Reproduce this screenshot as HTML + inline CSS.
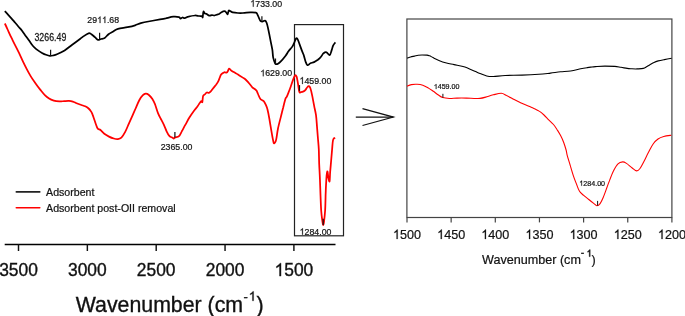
<!DOCTYPE html>
<html><head><meta charset="utf-8"><style>
html,body{margin:0;padding:0;background:#fff;width:685px;height:316px;overflow:hidden}
svg{display:block;font-family:"Liberation Sans", sans-serif;will-change:transform}
text.b{stroke:#111;stroke-width:0.35px}
text.s{stroke:#151515;stroke-width:0.22px}
</style></head><body>
<svg width="685" height="316" viewBox="0 0 685 316">
<line x1="4.7" y1="244.4" x2="335.5" y2="244.4" stroke="#000" stroke-width="1.45"/>
<line x1="18.50" y1="244.4" x2="18.50" y2="251" stroke="#111" stroke-width="1.45"/>
<text transform="translate(-0.85,276.10) scale(1,1.04)" x="0.00 9.68 19.35 29.03" y="0" font-size="17.4" fill="#111" class="b">3500</text>
<line x1="87.35" y1="244.4" x2="87.35" y2="251" stroke="#111" stroke-width="1.45"/>
<text transform="translate(68.00,276.10) scale(1,1.04)" x="0.00 9.68 19.35 29.03" y="0" font-size="17.4" fill="#111" class="b">3000</text>
<line x1="156.20" y1="244.4" x2="156.20" y2="251" stroke="#111" stroke-width="1.45"/>
<text transform="translate(136.85,276.10) scale(1,1.04)" x="0.00 9.68 19.35 29.03" y="0" font-size="17.4" fill="#111" class="b">2500</text>
<line x1="225.05" y1="244.4" x2="225.05" y2="251" stroke="#111" stroke-width="1.45"/>
<text transform="translate(205.70,276.10) scale(1,1.04)" x="0.00 9.68 19.35 29.03" y="0" font-size="17.4" fill="#111" class="b">2000</text>
<line x1="293.90" y1="244.4" x2="293.90" y2="251" stroke="#111" stroke-width="1.45"/>
<text transform="translate(274.55,276.10) scale(1,1.04)" x="9.68 19.35 29.03" y="0" font-size="17.4" fill="#111" class="b">500</text>
<path d="M281.03,276.10L279.50,276.10L279.50,265.97Q278.95,266.51 278.05,267.06Q277.15,267.61 276.44,267.88L276.44,266.35Q277.72,265.72 278.66,264.85Q279.60,263.98 280.01,263.15L281.03,263.15Z" fill="#111" stroke="#111" stroke-width="0.35"/>
<text class="b" x="75.8" y="311.6" font-size="21.3" fill="#111">Wavenumber (cm</text>
<text class="b" x="243.42" y="300.8" font-size="13.1" fill="#111">-</text>
<path d="M253.58,300.80L252.43,300.80L252.43,293.46Q252.01,293.86 251.34,294.26Q250.66,294.65 250.13,294.85L250.13,293.74Q251.09,293.28 251.80,292.65Q252.51,292.02 252.81,291.42L253.58,291.42Z" fill="#111" stroke="#111" stroke-width="0.35"/>
<text class="b" x="256.5" y="311.6" font-size="21.5" fill="#111">)</text>
<rect x="294.5" y="24.6" width="49" height="211.2" fill="none" stroke="#222" stroke-width="1.2"/>
<path d="M4.8,23.5 C5.3,24.5 6.5,27.1 7.6,29.5 C8.7,31.9 10.1,35.1 11.4,37.7 C12.7,40.3 13.9,42.8 15.2,45.3 C16.5,47.8 17.7,50.2 19.0,52.9 C20.3,55.6 21.6,58.6 22.9,61.3 C24.2,64.0 25.6,66.8 26.9,69.3 C28.2,71.8 29.4,74.0 30.8,76.4 C32.2,78.8 34.0,81.2 35.6,83.5 C37.2,85.8 38.8,87.9 40.4,89.9 C42.0,91.9 43.6,94.0 45.1,95.4 C46.6,96.9 47.7,97.7 49.1,98.6 C50.5,99.5 52.1,100.1 53.8,100.6 C55.5,101.1 57.8,101.3 59.5,101.4 C61.2,101.5 62.6,101.2 64.2,101.1 C65.8,101.0 67.6,100.8 69.0,100.9 C70.4,101.0 71.5,101.2 72.8,101.6 C74.1,102.0 75.2,102.7 76.6,103.3 C78.0,103.9 79.9,104.5 81.3,105.0 C82.7,105.5 84.0,105.8 85.1,106.3 C86.2,106.8 87.1,107.3 88.0,108.0 C88.9,108.7 89.6,109.5 90.3,110.4 C91.0,111.4 91.3,111.5 92.2,113.7 C93.1,115.9 94.8,121.2 95.7,123.7 C96.6,126.2 96.8,127.4 97.6,128.4 C98.4,129.5 99.4,129.1 100.5,130.0 C101.6,130.9 102.9,132.7 104.3,133.8 C105.7,134.9 107.4,135.8 109.0,136.6 C110.6,137.4 112.4,138.1 113.8,138.5 C115.2,138.9 116.3,139.2 117.6,139.1 C118.9,138.9 120.1,138.8 121.4,137.6 C122.7,136.4 123.9,134.3 125.2,131.9 C126.5,129.5 127.7,126.2 129.0,123.3 C130.3,120.4 131.7,117.3 132.8,114.8 C133.9,112.3 134.5,111.0 135.6,108.5 C136.7,106.0 138.2,102.2 139.4,100.0 C140.6,97.8 141.9,96.2 142.9,95.2 C143.9,94.2 144.8,93.8 145.7,93.7 C146.6,93.6 147.5,93.9 148.6,94.8 C149.7,95.7 151.3,97.3 152.4,99.0 C153.5,100.7 154.2,102.3 155.2,104.7 C156.1,107.1 157.1,110.9 158.1,113.3 C159.1,115.7 159.9,117.1 160.9,119.0 C161.9,120.9 162.9,122.7 163.8,124.7 C164.8,126.8 165.7,129.4 166.6,131.3 C167.5,133.2 168.6,135.1 169.5,136.1 C170.4,137.1 171.6,137.2 172.3,137.6 C173.0,138.0 173.2,138.5 173.7,138.5 C174.2,138.5 174.3,137.8 175.2,137.4 C176.1,137.0 177.9,137.1 179.0,136.1 C180.1,135.1 180.8,133.2 181.8,131.3 C182.9,129.4 184.0,127.2 185.3,124.9 C186.6,122.6 188.0,119.8 189.4,117.5 C190.8,115.2 192.1,113.3 193.5,111.4 C194.9,109.5 196.6,107.6 197.6,106.2 C198.6,104.8 199.1,103.9 199.7,103.1 C200.3,102.2 200.9,101.3 201.3,101.1 C201.7,100.9 202.0,102.9 202.3,102.1 C202.6,101.2 202.7,97.3 203.1,96.0 C203.5,94.7 204.2,95.1 204.8,94.5 C205.4,93.9 206.1,92.8 206.8,92.5 C207.5,92.2 208.2,93.1 208.9,92.9 C209.6,92.7 210.3,92.0 211.0,91.2 C211.7,90.5 212.2,89.5 213.0,88.4 C213.8,87.3 215.2,85.8 216.1,84.7 C216.9,83.6 217.5,82.8 218.1,81.6 C218.7,80.4 219.3,78.7 219.8,77.5 C220.3,76.3 220.4,75.3 221.2,74.4 C221.9,73.5 223.4,72.6 224.3,72.3 C225.2,72.0 225.8,72.9 226.4,72.7 C227.0,72.5 227.4,72.0 227.8,71.3 C228.2,70.6 228.4,68.7 229.0,68.6 C229.6,68.5 230.5,70.0 231.5,70.7 C232.5,71.4 233.9,72.1 235.0,72.7 C236.1,73.3 236.4,73.6 238.0,74.6 C239.6,75.6 242.9,77.5 244.7,78.8 C246.4,80.1 247.2,81.2 248.5,82.6 C249.8,84.0 251.0,86.0 252.3,87.3 C253.6,88.6 255.2,89.1 256.1,90.2 C257.1,91.3 257.3,92.5 258.0,94.0 C258.7,95.5 259.4,97.8 260.4,99.0 C261.3,100.2 262.8,100.3 263.7,101.2 C264.6,102.1 265.0,103.0 265.6,104.4 C266.2,105.8 266.9,107.1 267.5,109.5 C268.1,111.9 268.8,115.5 269.4,119.0 C270.0,122.5 270.7,126.8 271.3,130.4 C271.9,134.0 272.7,138.7 273.2,140.8 C273.7,143.0 273.7,143.5 274.2,143.3 C274.7,143.2 275.5,142.4 276.1,139.9 C276.7,137.4 277.2,132.3 278.0,128.5 C278.8,124.7 279.9,120.6 280.8,117.1 C281.7,113.6 282.4,110.5 283.2,107.5 C283.9,104.5 284.8,100.9 285.3,99.2 C285.8,97.5 286.0,98.0 286.3,97.4 C286.6,96.8 286.8,96.8 287.3,95.6 C287.8,94.4 288.8,91.8 289.4,90.3 C290.0,88.8 290.2,88.3 290.8,86.5 C291.4,84.7 292.5,81.3 293.2,79.4 C293.9,77.5 294.5,75.8 295.1,75.3 C295.7,74.8 296.1,75.3 296.6,76.6 C297.1,77.9 297.4,80.7 297.9,83.2 C298.3,85.7 298.8,90.3 299.3,91.8 C299.8,93.3 300.1,92.3 300.8,92.2 C301.5,92.1 302.8,91.8 303.6,91.4 C304.4,91.0 304.9,90.6 305.5,89.9 C306.1,89.2 306.8,87.6 307.4,87.0 C307.9,86.4 308.3,85.9 308.8,86.1 C309.3,86.3 309.7,86.4 310.3,88.0 C310.9,89.6 311.6,92.6 312.2,95.6 C312.8,98.5 313.5,102.4 314.1,105.7 C314.7,109.0 315.5,111.7 316.0,115.2 C316.5,118.7 316.7,122.8 317.0,126.6 C317.3,130.4 317.6,134.2 317.9,138.0 C318.2,141.8 318.6,145.0 318.8,149.4 C319.0,153.8 319.0,159.3 319.2,164.2 C319.4,169.0 319.7,173.4 319.9,178.5 C320.1,183.6 320.3,189.6 320.5,195.0 C320.7,200.4 320.9,206.3 321.2,210.8 C321.5,215.3 322.2,219.5 322.5,221.9 C322.8,224.3 322.9,225.1 323.2,225.1 C323.4,225.1 323.7,224.3 324.0,221.9 C324.3,219.5 324.8,215.3 325.1,210.8 C325.4,206.3 325.5,199.2 325.6,195.0 C325.8,190.8 325.8,188.8 326.0,185.6 C326.2,182.4 326.4,178.0 326.6,175.6 C326.9,173.2 327.2,170.9 327.5,171.4 C327.8,171.9 328.1,176.8 328.5,178.5 C328.9,180.2 329.3,182.5 329.6,181.3 C329.9,180.1 329.9,175.0 330.2,171.4 C330.5,167.8 330.9,163.7 331.2,160.0 C331.5,156.3 331.8,152.8 332.1,149.4 C332.4,146.1 332.6,141.9 333.1,139.9 C333.6,137.9 334.7,138.0 335.0,137.6" fill="none" stroke="#f00" stroke-width="1.75" stroke-linejoin="round"/>
<path d="M4.8,11.1 C5.3,11.6 6.5,12.9 7.6,14.1 C8.7,15.3 10.1,16.9 11.4,18.3 C12.7,19.7 13.9,21.2 15.2,22.7 C16.5,24.2 17.8,25.8 19.0,27.2 C20.2,28.6 21.1,29.6 22.2,31.0 C23.2,32.4 24.2,33.9 25.3,35.4 C26.4,36.9 27.4,38.3 28.5,39.8 C29.6,41.3 30.6,42.9 31.6,44.2 C32.6,45.5 33.5,46.6 34.6,47.6 C35.7,48.6 36.8,49.5 38.0,50.4 C39.2,51.3 40.7,52.2 42.0,52.9 C43.3,53.6 44.7,54.3 46.0,54.8 C47.3,55.3 48.6,55.8 49.8,55.9 C51.0,56.0 51.8,55.8 53.0,55.5 C54.2,55.2 55.1,55.1 57.0,54.2 C58.9,53.4 62.1,52.0 64.6,50.4 C67.1,48.8 69.6,46.6 72.2,44.7 C74.8,42.8 78.1,40.4 80.0,39.0 C81.9,37.6 82.4,37.1 83.8,36.1 C85.2,35.1 87.3,33.6 88.6,33.3 C89.9,33.0 90.3,33.5 91.4,34.2 C92.5,34.9 94.1,36.5 95.2,37.4 C96.3,38.3 97.0,39.6 98.0,39.9 C99.0,40.2 99.8,39.3 100.9,39.0 C102.0,38.7 103.4,38.8 104.7,38.0 C106.0,37.2 107.1,35.3 108.5,34.2 C109.9,33.1 111.7,32.3 113.3,31.4 C114.9,30.5 115.6,29.6 118.0,28.9 C120.4,28.2 124.7,27.8 127.5,27.2 C130.3,26.6 132.9,26.0 135.1,25.3 C137.3,24.6 138.6,23.8 140.8,23.2 C143.0,22.6 145.2,22.1 148.4,21.5 C151.6,20.9 157.1,19.9 160.0,19.4 C162.9,18.9 163.5,18.8 165.7,18.4 C167.9,17.9 171.1,16.9 173.3,16.7 C175.5,16.5 177.8,16.8 179.0,17.1 C180.2,17.4 179.9,18.5 180.5,18.6 C181.1,18.7 181.7,17.6 182.4,17.5 C183.1,17.4 183.7,18.3 184.7,18.2 C185.7,18.1 186.8,17.1 188.5,16.7 C190.2,16.2 193.2,15.6 195.0,15.5 C196.8,15.4 197.9,15.9 199.1,16.0 C200.3,16.1 201.4,16.0 202.0,16.2 C202.6,16.4 202.5,18.1 202.7,17.3 C202.9,16.5 203.1,12.2 203.4,11.6 C203.7,10.9 204.2,13.1 204.7,13.4 C205.2,13.8 205.4,13.3 206.2,13.7 C207.0,14.1 208.4,15.5 209.3,15.7 C210.2,15.9 211.1,15.0 211.9,15.0 C212.8,15.0 213.6,15.6 214.4,15.5 C215.2,15.4 216.2,14.9 217.0,14.7 C217.8,14.4 218.3,14.4 219.0,14.0 C219.7,13.6 220.2,12.9 221.1,12.4 C222.0,11.9 223.8,11.1 224.6,11.1 C225.4,11.1 225.7,11.9 226.2,12.4 C226.7,12.9 227.3,14.5 227.7,14.2 C228.1,13.9 228.3,11.1 228.7,10.6 C229.1,10.1 229.6,10.8 230.3,11.1 C231.0,11.4 231.5,12.1 232.8,12.4 C234.1,12.7 236.2,12.9 237.9,13.0 C239.6,13.1 240.9,13.1 243.0,13.0 C245.1,12.9 248.1,12.5 250.2,12.4 C252.3,12.3 254.6,12.4 255.8,12.7 C257.0,13.0 256.8,13.3 257.3,14.2 C257.8,15.0 258.4,16.7 258.9,17.8 C259.4,18.9 259.8,20.2 260.4,20.8 C261.0,21.4 261.6,21.6 262.4,21.6 C263.2,21.6 264.3,20.4 265.0,20.6 C265.7,20.8 266.0,21.2 266.6,22.8 C267.2,24.4 267.9,27.5 268.5,30.4 C269.1,33.2 269.8,36.7 270.4,39.9 C271.0,43.1 271.8,46.4 272.3,49.4 C272.8,52.4 272.7,55.3 273.2,57.6 C273.7,59.9 274.6,62.2 275.1,63.3 C275.6,64.4 275.6,64.1 276.1,64.2 C276.6,64.3 277.2,64.2 278.0,63.7 C278.8,63.2 279.5,62.7 280.8,61.4 C282.1,60.1 284.3,57.4 285.6,55.7 C286.9,54.0 287.4,52.8 288.5,51.3 C289.6,49.8 291.4,48.0 292.3,46.6 C293.2,45.2 293.6,44.2 294.2,42.8 C294.8,41.4 295.6,39.0 296.1,38.4 C296.7,37.8 297.0,38.3 297.5,39.0 C298.0,39.7 298.3,40.9 299.0,42.8 C299.7,44.7 301.0,48.3 301.8,50.4 C302.6,52.5 303.1,53.2 303.7,55.1 C304.3,57.0 305.0,60.0 305.6,61.7 C306.2,63.4 306.7,64.9 307.5,65.2 C308.3,65.5 309.3,63.8 310.4,63.3 C311.5,62.8 312.9,62.7 314.1,62.1 C315.4,61.5 316.8,60.6 317.9,59.8 C319.0,58.9 319.9,58.1 320.8,57.0 C321.8,55.9 322.7,54.0 323.6,53.2 C324.6,52.4 325.5,52.0 326.5,52.3 C327.5,52.6 328.8,55.4 329.7,55.1 C330.6,54.8 331.0,52.0 331.6,50.4 C332.2,48.8 332.5,46.9 333.1,45.6 C333.7,44.3 335.0,42.9 335.4,42.4" fill="none" stroke="#000" stroke-width="1.75" stroke-linejoin="round"/>
<line x1="50.6" y1="49.8" x2="50.6" y2="56.0" stroke="#111" stroke-width="1.2"/>
<line x1="99.6" y1="32.7" x2="99.6" y2="39.5" stroke="#111" stroke-width="1.2"/>
<line x1="261.9" y1="16.2" x2="261.9" y2="21.3" stroke="#111" stroke-width="1.2"/>
<line x1="275.5" y1="58.5" x2="275.5" y2="64.2" stroke="#111" stroke-width="1.2"/>
<line x1="299.5" y1="85.1" x2="299.5" y2="90.8" stroke="#111" stroke-width="1.2"/>
<line x1="174.9" y1="131.9" x2="174.9" y2="137.4" stroke="#111" stroke-width="1.2"/>
<line x1="323.2" y1="218.7" x2="323.2" y2="225.1" stroke="#111" stroke-width="1.2"/>
<text transform="translate(34.47,40.95) scale(1,1.14)" x="0.00 4.89 9.79 14.68 19.58 22.02 26.92" y="0" font-size="8.8" fill="#151515" class="s">3266.49</text>
<text transform="translate(87.36,23.05) scale(1,1.03)" x="0.00 4.89 19.58 22.02 26.92" y="0" font-size="8.8" fill="#151515" class="s">29.68</text>
<path d="M100.43,23.05L99.65,23.05L99.65,17.97Q99.37,18.25 98.92,18.52Q98.47,18.80 98.11,18.93L98.11,18.16Q98.76,17.85 99.23,17.41Q99.70,16.98 99.91,16.56L100.43,16.56ZM105.32,23.05L104.55,23.05L104.55,17.97Q104.27,18.25 103.81,18.52Q103.36,18.80 103.00,18.93L103.00,18.16Q103.65,17.85 104.12,17.41Q104.60,16.98 104.81,16.56L105.32,16.56Z" fill="#151515" stroke="#151515" stroke-width="0.22"/>
<text transform="translate(250.34,6.65) scale(1,1.08)" x="4.89 9.79 14.68 19.58 22.02 26.92" y="0" font-size="8.8" fill="#151515" class="s">733.00</text>
<path d="M253.62,6.65L252.85,6.65L252.85,1.33Q252.57,1.61 252.11,1.90Q251.66,2.19 251.30,2.33L251.30,1.53Q251.95,1.20 252.42,0.74Q252.90,0.28 253.10,-0.15L253.62,-0.15Z" fill="#151515" stroke="#151515" stroke-width="0.22"/>
<text transform="translate(260.34,76.25) scale(1,1.05)" x="4.89 9.79 14.68 19.58 22.02 26.92" y="0" font-size="8.8" fill="#151515" class="s">629.00</text>
<path d="M263.62,76.25L262.85,76.25L262.85,71.08Q262.57,71.35 262.11,71.63Q261.66,71.91 261.30,72.05L261.30,71.27Q261.95,70.95 262.42,70.50Q262.90,70.06 263.10,69.64L263.62,69.64Z" fill="#151515" stroke="#151515" stroke-width="0.22"/>
<text transform="translate(299.54,84.00) scale(1,1.13)" x="4.89 9.79 14.68 19.58 22.02 26.92" y="0" font-size="8.8" fill="#151515" class="s">459.00</text>
<path d="M302.82,84.00L302.05,84.00L302.05,78.43Q301.77,78.73 301.31,79.03Q300.86,79.33 300.50,79.48L300.50,78.64Q301.15,78.29 301.62,77.82Q302.10,77.34 302.30,76.88L302.82,76.88Z" fill="#151515" stroke="#151515" stroke-width="0.22"/>
<text transform="translate(160.66,149.90) scale(1,1.04)" x="0.00 4.89 9.79 14.68 19.58 22.02 26.92" y="0" font-size="8.8" fill="#151515" class="s">2365.00</text>
<text transform="translate(299.64,234.70) scale(1,1.02)" x="4.89 9.79 14.68 19.58 22.02 26.92" y="0" font-size="8.8" fill="#151515" class="s">284.00</text>
<path d="M302.92,234.70L302.15,234.70L302.15,229.67Q301.87,229.94 301.41,230.22Q300.96,230.49 300.60,230.62L300.60,229.86Q301.25,229.55 301.72,229.12Q302.20,228.69 302.40,228.27L302.92,228.27Z" fill="#151515" stroke="#151515" stroke-width="0.22"/>
<line x1="16.3" y1="191.9" x2="39.8" y2="191.9" stroke="#222" stroke-width="1.6" stroke-linecap="round"/>
<line x1="16.3" y1="207.8" x2="39.8" y2="207.8" stroke="#f00" stroke-width="1.6" stroke-linecap="round"/>
<text class="s" x="46.1" y="195.8" font-size="10.6" fill="#111">Adsorbent</text>
<text class="s" x="46.1" y="211.7" font-size="10.6" fill="#111">Adsorbent post-OII removal</text>
<line x1="355.8" y1="117.1" x2="393.4" y2="117.1" stroke="#111" stroke-width="1.2"/>
<polyline points="362.5,108.6 393.4,117.1 362.5,125.5" fill="none" stroke="#111" stroke-width="1.2"/>
<rect x="406.9" y="19.0" width="265" height="198.5" fill="none" stroke="#444" stroke-width="1.2"/>
<line x1="407.00" y1="217.5" x2="407.00" y2="222.4" stroke="#444" stroke-width="1.2"/>
<text transform="translate(392.98,239.00) scale(1,1.04)" x="7.01 14.02 21.02" y="0" font-size="12.6" fill="#111" class="s">500</text>
<path d="M397.68,239.00L396.57,239.00L396.57,231.66Q396.17,232.06 395.52,232.45Q394.87,232.85 394.36,233.05L394.36,231.94Q395.29,231.48 395.97,230.85Q396.65,230.22 396.94,229.62L397.68,229.62Z" fill="#111" stroke="#111" stroke-width="0.22"/>
<line x1="451.15" y1="217.5" x2="451.15" y2="222.4" stroke="#444" stroke-width="1.2"/>
<text transform="translate(437.13,239.00) scale(1,1.04)" x="7.01 14.02 21.02" y="0" font-size="12.6" fill="#111" class="s">450</text>
<path d="M441.83,239.00L440.72,239.00L440.72,231.66Q440.32,232.06 439.67,232.45Q439.02,232.85 438.51,233.05L438.51,231.94Q439.44,231.48 440.12,230.85Q440.80,230.22 441.09,229.62L441.83,229.62Z" fill="#111" stroke="#111" stroke-width="0.22"/>
<line x1="495.30" y1="217.5" x2="495.30" y2="222.4" stroke="#444" stroke-width="1.2"/>
<text transform="translate(481.28,239.00) scale(1,1.04)" x="7.01 14.02 21.02" y="0" font-size="12.6" fill="#111" class="s">400</text>
<path d="M485.98,239.00L484.87,239.00L484.87,231.66Q484.47,232.06 483.82,232.45Q483.17,232.85 482.66,233.05L482.66,231.94Q483.59,231.48 484.27,230.85Q484.95,230.22 485.24,229.62L485.98,229.62Z" fill="#111" stroke="#111" stroke-width="0.22"/>
<line x1="539.45" y1="217.5" x2="539.45" y2="222.4" stroke="#444" stroke-width="1.2"/>
<text transform="translate(525.43,239.00) scale(1,1.04)" x="7.01 14.02 21.02" y="0" font-size="12.6" fill="#111" class="s">350</text>
<path d="M530.13,239.00L529.02,239.00L529.02,231.66Q528.62,232.06 527.97,232.45Q527.32,232.85 526.81,233.05L526.81,231.94Q527.74,231.48 528.42,230.85Q529.10,230.22 529.39,229.62L530.13,229.62Z" fill="#111" stroke="#111" stroke-width="0.22"/>
<line x1="583.60" y1="217.5" x2="583.60" y2="222.4" stroke="#444" stroke-width="1.2"/>
<text transform="translate(569.58,239.00) scale(1,1.04)" x="7.01 14.02 21.02" y="0" font-size="12.6" fill="#111" class="s">300</text>
<path d="M574.28,239.00L573.17,239.00L573.17,231.66Q572.77,232.06 572.12,232.45Q571.47,232.85 570.96,233.05L570.96,231.94Q571.89,231.48 572.57,230.85Q573.25,230.22 573.54,229.62L574.28,229.62Z" fill="#111" stroke="#111" stroke-width="0.22"/>
<line x1="627.75" y1="217.5" x2="627.75" y2="222.4" stroke="#444" stroke-width="1.2"/>
<text transform="translate(613.73,239.00) scale(1,1.04)" x="7.01 14.02 21.02" y="0" font-size="12.6" fill="#111" class="s">250</text>
<path d="M618.43,239.00L617.32,239.00L617.32,231.66Q616.92,232.06 616.27,232.45Q615.62,232.85 615.11,233.05L615.11,231.94Q616.04,231.48 616.72,230.85Q617.40,230.22 617.69,229.62L618.43,229.62Z" fill="#111" stroke="#111" stroke-width="0.22"/>
<line x1="671.90" y1="217.5" x2="671.90" y2="222.4" stroke="#444" stroke-width="1.2"/>
<text transform="translate(657.88,239.00) scale(1,1.04)" x="7.01 14.02 21.02" y="0" font-size="12.6" fill="#111" class="s">200</text>
<path d="M662.58,239.00L661.47,239.00L661.47,231.66Q661.07,232.06 660.42,232.45Q659.77,232.85 659.26,233.05L659.26,231.94Q660.19,231.48 660.87,230.85Q661.55,230.22 661.84,229.62L662.58,229.62Z" fill="#111" stroke="#111" stroke-width="0.22"/>
<text class="s" x="482.0" y="264.3" font-size="12.6" fill="#111">Wavenumber (cm</text>
<rect x="581.1" y="252.7" width="2.8" height="1.2" fill="#111"/>
<path d="M590.10,256.60L589.31,256.60L589.31,251.16Q589.03,251.45 588.56,251.74Q588.10,252.04 587.73,252.19L587.73,251.36Q588.39,251.02 588.88,250.56Q589.36,250.09 589.58,249.64L590.10,249.64Z" fill="#111" stroke="#111" stroke-width="0.55"/>
<text class="s" x="591.6" y="264.3" font-size="12.6" fill="#111">)</text>
<path d="M407.1,58.3 C407.7,58.1 409.4,57.4 410.6,57.0 C411.8,56.6 413.1,56.4 414.4,56.1 C415.7,55.8 416.9,55.4 418.2,55.2 C419.5,55.0 420.5,55.0 422.0,55.0 C423.5,55.0 425.7,55.0 427.0,55.1 C428.3,55.2 428.6,55.4 429.6,55.8 C430.6,56.2 431.4,56.8 433.0,57.6 C434.6,58.4 436.6,59.5 438.9,60.4 C441.1,61.3 444.0,62.3 446.5,63.0 C449.0,63.7 451.4,64.0 454.1,64.6 C456.9,65.2 460.7,65.9 463.0,66.5 C465.3,67.1 465.9,67.4 468.0,68.2 C470.1,69.0 473.6,70.7 475.6,71.6 C477.6,72.5 478.1,72.8 480.0,73.5 C481.9,74.2 484.5,75.5 486.7,76.0 C488.9,76.5 490.3,76.6 493.4,76.5 C496.5,76.4 500.4,75.7 505.2,75.5 C510.0,75.3 516.4,75.3 522.0,75.1 C527.6,74.9 534.0,74.6 538.8,74.3 C543.5,74.0 546.9,73.5 550.5,73.1 C554.1,72.7 557.2,72.1 560.6,71.8 C564.0,71.5 567.2,71.5 570.6,71.0 C574.0,70.5 577.9,69.4 580.7,68.8 C583.5,68.2 585.5,67.9 587.4,67.6 C589.3,67.3 590.4,67.2 592.0,67.0 C593.6,66.8 594.9,66.7 597.0,66.5 C599.1,66.3 601.9,66.1 604.9,66.1 C607.9,66.1 612.1,66.2 614.8,66.4 C617.5,66.6 618.9,67.0 621.0,67.3 C623.1,67.6 625.4,68.2 627.2,68.4 C629.0,68.7 630.4,68.7 632.0,68.8 C633.6,68.9 635.2,69.0 637.1,68.9 C639.0,68.8 641.7,68.8 643.3,68.4 C644.9,68.1 645.5,67.4 646.5,66.8 C647.5,66.2 648.4,65.6 649.6,64.9 C650.9,64.2 652.6,63.2 654.0,62.5 C655.4,61.8 656.5,61.4 658.2,60.9 C659.9,60.4 662.2,60.0 664.4,59.6 C666.6,59.2 670.4,58.5 671.6,58.3" fill="none" stroke="#000" stroke-width="1.1" stroke-linejoin="round"/>
<path d="M407.0,86.2 C407.7,85.9 409.7,84.9 411.4,84.6 C413.1,84.3 415.2,84.2 417.1,84.3 C419.0,84.4 420.9,84.6 422.8,85.2 C424.7,85.8 426.8,87.1 428.5,88.1 C430.2,89.1 431.7,90.2 433.3,91.3 C434.9,92.4 436.4,93.7 438.0,94.7 C439.6,95.8 440.9,97.0 442.8,97.6 C444.7,98.2 447.0,98.4 449.4,98.5 C451.8,98.6 454.1,98.2 457.0,98.1 C459.9,98.0 463.3,98.0 466.5,98.1 C469.7,98.2 473.8,98.5 476.0,98.5 C478.2,98.5 478.4,98.6 480.0,98.4 C481.6,98.2 483.5,97.7 485.7,97.1 C487.9,96.5 490.7,95.4 493.3,94.8 C495.9,94.2 499.1,93.2 501.3,93.3 C503.5,93.4 504.5,94.5 506.6,95.6 C508.8,96.6 511.7,98.3 514.2,99.6 C516.7,100.9 519.2,102.0 521.8,103.2 C524.4,104.4 527.6,105.7 529.7,106.6 C531.8,107.5 532.9,108.0 534.5,108.7 C536.1,109.5 537.6,110.0 539.2,111.1 C540.8,112.1 542.4,113.5 544.0,115.0 C545.6,116.5 547.1,118.2 548.7,119.8 C550.3,121.4 552.0,122.8 553.5,124.5 C555.0,126.2 556.2,128.2 557.4,130.1 C558.6,131.9 559.5,133.5 560.6,135.6 C561.7,137.7 562.9,140.3 563.8,142.7 C564.7,145.1 565.5,147.9 566.1,150.0 C566.7,152.1 566.5,152.7 567.2,155.3 C567.9,157.9 569.3,162.2 570.3,165.6 C571.3,169.0 572.4,172.8 573.4,175.9 C574.4,179.0 575.5,181.5 576.5,184.1 C577.5,186.7 578.3,189.4 579.5,191.3 C580.7,193.2 582.2,194.0 583.7,195.4 C585.2,196.8 587.1,198.1 588.8,199.5 C590.5,200.9 592.6,202.6 594.0,203.6 C595.4,204.6 596.0,205.7 597.0,205.7 C598.0,205.7 599.1,205.0 600.1,203.6 C601.1,202.2 602.2,199.9 603.2,197.5 C604.2,195.1 605.3,192.0 606.3,189.2 C607.3,186.4 608.2,183.9 609.4,180.9 C610.5,177.9 611.8,174.2 613.2,171.4 C614.6,168.6 616.4,165.4 618.0,163.8 C619.6,162.2 621.3,162.0 622.7,161.9 C624.1,161.8 624.9,162.4 626.5,163.4 C628.1,164.4 630.5,166.8 632.2,168.0 C633.9,169.2 635.4,170.8 636.7,170.9 C638.0,171.0 638.8,170.0 640.0,168.5 C641.2,167.0 642.4,164.5 643.8,161.8 C645.2,159.1 646.9,155.3 648.5,152.3 C650.1,149.3 651.7,146.0 653.3,143.8 C654.9,141.6 656.3,140.2 658.0,139.0 C659.7,137.8 661.5,137.1 663.7,136.5 C665.9,135.9 670.0,135.4 671.3,135.2" fill="none" stroke="#f00" stroke-width="1.1" stroke-linejoin="round"/>
<line x1="442.9" y1="93.8" x2="442.9" y2="97.6" stroke="#111" stroke-width="1"/>
<line x1="597.6" y1="200.9" x2="597.6" y2="205.6" stroke="#111" stroke-width="1"/>
<text transform="translate(433.77,89.10) scale(1,1.0)" x="3.95 7.90 11.85 15.79 17.77 21.72" y="0" font-size="7.1" fill="#151515" class="s">459.00</text>
<path d="M436.42,89.10L435.79,89.10L435.79,85.12Q435.57,85.34 435.20,85.55Q434.83,85.77 434.54,85.88L434.54,85.27Q435.07,85.03 435.45,84.69Q435.83,84.34 436.00,84.02L436.42,84.02Z" fill="#151515" stroke="#151515" stroke-width="0.22"/>
<text transform="translate(579.37,185.70) scale(1,1.0)" x="3.95 7.90 11.85 15.79 17.77 21.72" y="0" font-size="7.1" fill="#151515" class="s">284.00</text>
<path d="M582.02,185.70L581.39,185.70L581.39,181.72Q581.17,181.94 580.80,182.15Q580.43,182.37 580.14,182.48L580.14,181.87Q580.67,181.63 581.05,181.29Q581.43,180.94 581.60,180.62L582.02,180.62Z" fill="#151515" stroke="#151515" stroke-width="0.22"/>
</svg>
</body></html>
